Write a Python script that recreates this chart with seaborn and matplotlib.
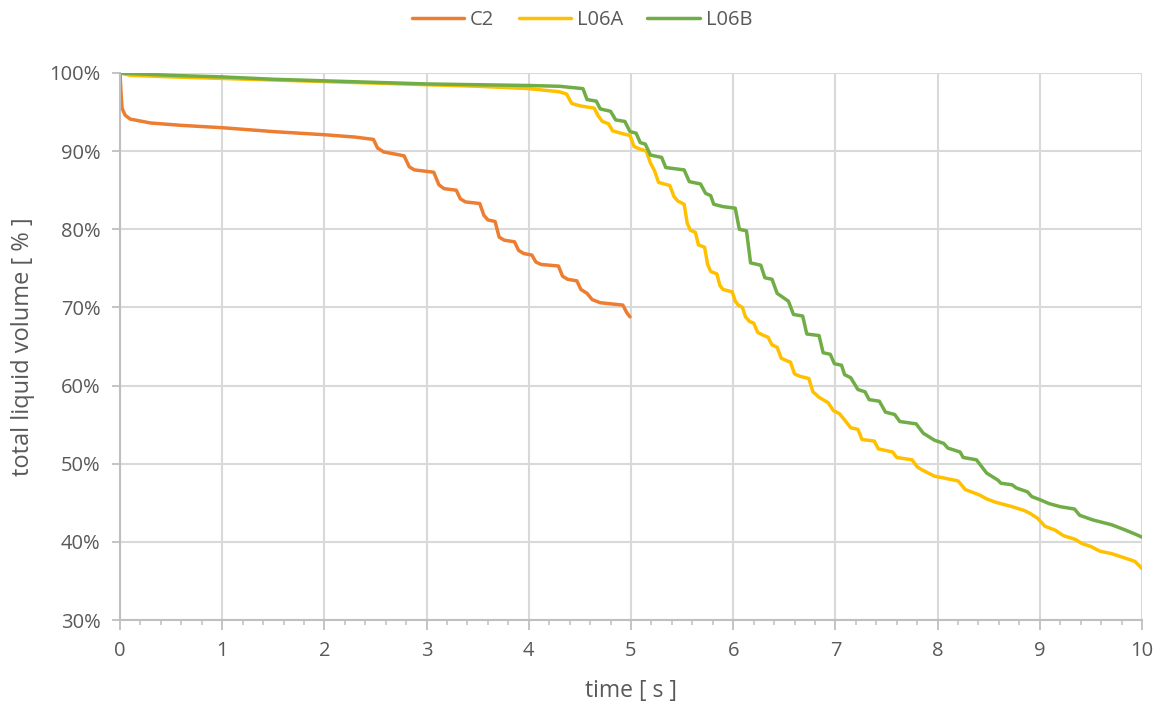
import numpy as np
import pandas as pd
import matplotlib
matplotlib.use("Agg")
import matplotlib.pyplot as plt
from matplotlib.ticker import MultipleLocator, FuncFormatter
import seaborn as sns

# ---------------- data ----------------
c2_t = [0, 0.01, 0.02, 0.05, 0.1, 0.3, 0.6, 1.0, 1.5, 2.0, 2.3, 2.48, 2.52, 2.58, 2.78, 2.83, 2.88,
        3.07, 3.12, 3.17, 3.29, 3.33, 3.38, 3.52, 3.56, 3.6, 3.67, 3.71, 3.76, 3.86, 3.9, 3.95,
        4.03, 4.07, 4.12, 4.29, 4.33, 4.38, 4.47, 4.51, 4.57, 4.62, 4.7, 4.92, 4.96, 4.99]
c2_v = [100, 97.5, 95.5, 94.6, 94.1, 93.6, 93.3, 93.0, 92.5, 92.1, 91.8, 91.5, 90.4, 89.9, 89.4, 88.0, 87.6,
        87.3, 85.7, 85.2, 85.0, 83.9, 83.5, 83.3, 81.8, 81.2, 81.0, 79.0, 78.6, 78.4, 77.3, 76.9,
        76.7, 75.8, 75.5, 75.3, 74.0, 73.6, 73.4, 72.3, 71.8, 71.0, 70.6, 70.3, 69.3, 68.8]

l06a_t = [0, 0.1, 0.5, 1.0, 1.5, 2.0, 2.5, 3.0, 3.5, 4.0, 4.3, 4.37, 4.42, 4.5, 4.64, 4.68, 4.72, 4.78,
          4.82, 4.9, 4.99, 5.03, 5.08, 5.15, 5.19, 5.23, 5.27, 5.38, 5.42, 5.46, 5.52, 5.55, 5.58,
          5.63, 5.66, 5.72, 5.75, 5.78, 5.84, 5.87, 5.9, 5.99, 6.02, 6.05, 6.09, 6.12, 6.16, 6.2,
          6.24, 6.3, 6.34, 6.38, 6.43, 6.47, 6.52, 6.56, 6.6, 6.65, 6.74, 6.78, 6.84, 6.93, 6.98,
          7.04, 7.09, 7.15, 7.22, 7.26, 7.38, 7.42, 7.56, 7.6, 7.75, 7.8, 7.85, 7.97, 8.05, 8.2,
          8.27, 8.41, 8.48, 8.56, 8.73, 8.85, 8.91, 8.98, 9.05, 9.15, 9.23, 9.35, 9.41, 9.5, 9.59,
          9.7, 9.84, 9.93, 10.0]
l06a_v = [100, 99.7, 99.5, 99.3, 99.1, 98.9, 98.7, 98.5, 98.3, 98.0, 97.6, 97.3, 96.1, 95.8, 95.5, 94.5,
          93.8, 93.5, 92.6, 92.3, 92.0, 90.6, 90.3, 90.0, 88.5, 87.5, 86.0, 85.6, 84.2, 83.6, 83.2,
          80.8, 79.9, 79.6, 78.0, 77.7, 75.5, 74.6, 74.3, 72.8, 72.3, 72.0, 70.8, 70.3, 70.0, 68.8,
          68.2, 68.0, 66.8, 66.4, 66.2, 65.2, 64.9, 63.5, 63.2, 63.0, 61.5, 61.2, 60.9, 59.2, 58.5,
          57.8, 56.8, 56.4, 55.6, 54.6, 54.4, 53.1, 52.9, 51.9, 51.5, 50.8, 50.5, 49.6, 49.2, 48.4,
          48.2, 47.8, 46.7, 46.0, 45.5, 45.1, 44.5, 44.0, 43.6, 43.0, 42.0, 41.5, 40.8, 40.3, 39.8,
          39.4, 38.8, 38.5, 37.9, 37.5, 36.6]

l06b_t = [0, 0.5, 1.0, 1.5, 2.0, 2.5, 3.0, 3.5, 4.0, 4.3, 4.53, 4.57, 4.66, 4.7, 4.8, 4.85, 4.94,
          4.99, 5.05, 5.09, 5.14, 5.19, 5.3, 5.34, 5.52, 5.57, 5.68, 5.73, 5.78, 5.81, 5.9, 6.02,
          6.06, 6.13, 6.17, 6.27, 6.31, 6.38, 6.43, 6.54, 6.59, 6.68, 6.72, 6.84, 6.88, 6.95, 6.99,
          7.06, 7.09, 7.15, 7.22, 7.29, 7.33, 7.43, 7.49, 7.58, 7.63, 7.79, 7.86, 7.97, 8.06, 8.1,
          8.22, 8.25, 8.38, 8.48, 8.59, 8.62, 8.73, 8.77, 8.88, 8.92, 9.0, 9.09, 9.2, 9.34, 9.39,
          9.52, 9.7, 9.84, 9.95, 10.0]
l06b_v = [100, 99.7, 99.5, 99.2, 99.0, 98.8, 98.6, 98.5, 98.4, 98.3, 98.0, 96.6, 96.4, 95.4, 95.1,
          94.0, 93.8, 92.5, 92.3, 91.1, 90.9, 89.5, 89.2, 87.9, 87.6, 86.1, 85.8, 84.6, 84.3, 83.2,
          82.9, 82.7, 80.0, 79.8, 75.7, 75.4, 73.8, 73.6, 71.8, 70.8, 69.1, 68.9, 66.6, 66.4, 64.2,
          64.0, 62.8, 62.6, 61.4, 61.0, 59.5, 59.2, 58.2, 58.0, 56.6, 56.3, 55.4, 55.1, 53.9, 53.0,
          52.6, 52.0, 51.5, 50.8, 50.5, 48.8, 47.9, 47.5, 47.3, 46.9, 46.4, 45.8, 45.4, 44.9, 44.5,
          44.2, 43.4, 42.8, 42.2, 41.5, 40.9, 40.6]

series_names = ["C2", "L06A", "L06B"]
series_colors = ["#ED7D31", "#FFC000", "#70AD47"]
x_ticks = list(range(0, 11))
y_ticks = list(range(30, 101, 10))

# ---------------- build long frame ----------------
frames = []
for name, t, v in zip(series_names, [c2_t, l06a_t, l06b_t], [c2_v, l06a_v, l06b_v]):
    frames.append(pd.DataFrame({"time": t, "vol": v, "series": name}))
df = pd.concat(frames, ignore_index=True)

# ---------------- plot ----------------
sns.set_theme(style="white")
plt.rcParams["font.family"] = ["Open Sans", "DejaVu Sans"]

fig = plt.figure(figsize=(11.64, 7.04), dpi=100)
ax = fig.add_axes([120 / 1164, 1 - 620 / 704, (1142 - 120) / 1164, (620 - 73) / 704])

sns.lineplot(data=df, x="time", y="vol", hue="series", hue_order=series_names,
             palette=dict(zip(series_names, series_colors)), sort=False, estimator=None,
             linewidth=2.5, ax=ax, legend=True)

grid_c = "#d9d9d9"
text_c = "#595959"
ax.set_xlim(0, 10)
ax.set_ylim(30, 100)
ax.set_xticks(x_ticks)
ax.set_yticks(y_ticks)
ax.xaxis.set_minor_locator(MultipleLocator(0.2))
ax.yaxis.set_major_formatter(FuncFormatter(lambda v, p: f"{v:.0f}%"))
ax.grid(True, which="major", color=grid_c, linewidth=1.5)
ax.set_axisbelow(True)
for s in ["top", "right"]:
    ax.spines[s].set_visible(False)
for s in ["left", "bottom"]:
    ax.spines[s].set_color("#bfbfbf")
    ax.spines[s].set_linewidth(1.5)
ax.tick_params(axis="both", which="both", bottom=True, left=True, top=False, right=False)
ax.tick_params(axis="both", which="major", direction="out", length=6, width=1.3,
               color="#bfbfbf", labelsize=14.5, labelcolor=text_c)
ax.tick_params(axis="y", which="major", pad=8)
ax.tick_params(axis="x", which="minor", direction="out", length=3.5, width=1.1, color="#bfbfbf")
ax.tick_params(axis="y", which="minor", left=False)
ax.tick_params(axis="x", which="major", length=7, pad=8)

ax.set_xlabel("time [ s ]", fontsize=16.5, color=text_c, labelpad=13)
ax.set_ylabel("total liquid volume [ % ]", fontsize=17, color=text_c, labelpad=10)

ax.get_legend().remove()
handles, labels = ax.get_legend_handles_labels()
fig.legend(handles[:3], labels[:3], loc="center", bbox_to_anchor=(0.5, 1 - 20 / 704), ncol=3,
           frameon=False, fontsize=14.5, labelcolor=text_c, handlelength=2.6, columnspacing=1.2,
           handletextpad=0.3)

fig.savefig("out.png", dpi=100)
